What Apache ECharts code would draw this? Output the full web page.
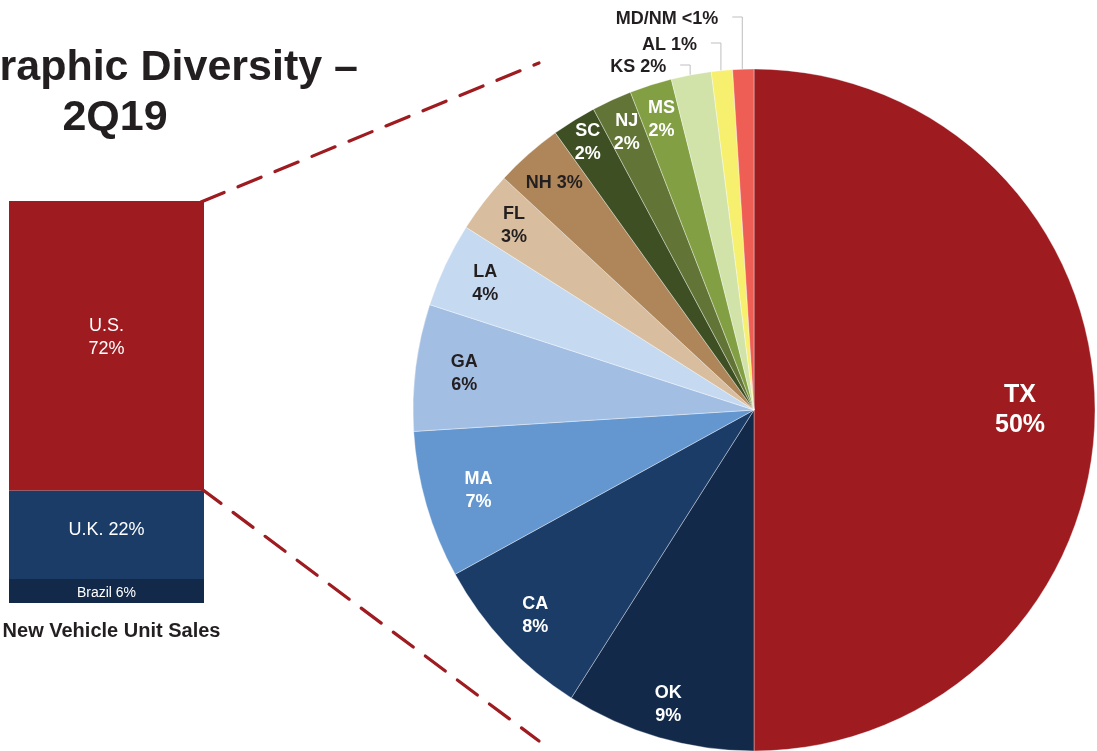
<!DOCTYPE html>
<html><head><meta charset="utf-8">
<script src="https://cdn.jsdelivr.net/npm/echarts@6/dist/echarts.min.js"></script>
<style>html,body{margin:0;padding:0;background:#fff}#c{width:1097px;height:751px}</style>
</head><body><div id="c"></div>
<script>
// ---- data ----
const barCategory = ['New Vehicle Unit Sales'];
const regions = ['Brazil', 'U.K.', 'U.S.'];          // bottom to top
const regionShares = [6, 22, 72];
const regionLabels = ['Brazil 6%', 'U.K. 22%', 'U.S.\n72%'];

const states = ['TX', 'OK', 'CA', 'MA', 'GA', 'LA', 'FL', 'NH', 'SC', 'NJ', 'MS', 'KS', 'AL', 'MD/NM'];
const stateShares = [50, 9, 8, 7, 6, 4, 2.9, 3.2, 2.1, 1.9, 2.0, 1.9, 1.0, 1.0];
const stateLabels = ['50%', '9%', '8%', '7%', '6%', '4%', '3%', '3%', '2%', '2%', '2%', '2%', '1%', '<1%'];

// ---- styles ----
const FONT = '"Liberation Sans", Arial, Helvetica, sans-serif';
const regionColors = ['#12294A', '#1C3C68', '#9E1B20'];
const stateColors = ['#9E1B20', '#12294A', '#1C3C68', '#6497CF', '#A3BEE3', '#C5DAF1', '#D8BE9E',
  '#AE8659', '#3E5023', '#627536', '#82A043', '#D1E3A8', '#F7F06E', '#EE5E55'];
const inlineSet = { 'NH': 1, 'KS': 1, 'AL': 1, 'MD/NM': 1 };
const outsideSet = { 'KS': 1, 'AL': 1, 'MD/NM': 1 };
const darkSet = { 'GA': 1, 'LA': 1, 'FL': 1, 'NH': 1, 'KS': 1, 'AL': 1, 'MD/NM': 1 };
const labelRadius = [266, 307, 300, 287, 292, 297, 303, 302, 315, 305, 305];
const outsideLabelY = { 'KS': 67, 'AL': 45, 'MD/NM': 19 };
const CX = 754, CY = 410, R = 341;
const GRID = { left: 9, top: 201, width: 195, height: 402 };

const total = stateShares.reduce((a, b) => a + b, 0);
const midAngles = [];
let acc = 0;
stateShares.forEach(v => { midAngles.push((acc + v / 2) / total * 2 * Math.PI); acc += v; });

const chart = echarts.init(document.getElementById('c'));

const pieData = states.map((s, i) => ({
  name: s,
  value: stateShares[i],
  itemStyle: { color: stateColors[i] },
  label: {
    position: outsideSet[s] ? 'outside' : 'inside',
    color: darkSet[s] ? '#231F20' : '#FFFFFF',
    fontSize: i === 0 ? 25 : 18,
    lineHeight: i === 0 ? 30 : 23
  },
  labelLine: { show: !!outsideSet[s] }
}));

chart.setOption({
  animation: false,
  backgroundColor: '#FFFFFF',
  textStyle: { fontFamily: FONT },
  grid: { left: GRID.left, top: GRID.top, width: GRID.width, height: GRID.height, containLabel: false, outerBoundsMode: 'none' },
  xAxis: {
    type: 'category', data: barCategory,
    axisLine: { show: false }, axisTick: { show: false },
    axisLabel: { fontSize: 20, fontWeight: 'bold', color: '#231F20', margin: 18, fontFamily: FONT, padding: [0, 0, 0, 10] }
  },
  yAxis: { type: 'value', min: 0, max: 100, show: false },
  series: regions.map((r, i) => ({
    name: r, type: 'bar', stack: 'total', barWidth: '100%',
    data: [regionShares[i]],
    itemStyle: { color: regionColors[i] },
    label: {
      show: true, position: 'inside', formatter: regionLabels[i],
      color: '#FFFFFF', fontSize: i === 0 ? 14 : 18, lineHeight: 23, fontFamily: FONT,
      offset: i === 2 ? [0, -8] : (i === 1 ? [0, -5] : [0, 2])
    }
  })).concat([{
    type: 'pie',
    center: [CX, CY],
    radius: R,
    startAngle: 90,
    clockwise: true,
    avoidLabelOverlap: false,
    itemStyle: { borderColor: 'rgba(255,255,255,0.6)', borderWidth: 0.6 },
    label: {
      show: true,
      fontFamily: FONT,
      fontWeight: 'bold',
      formatter: p => p.name + (inlineSet[p.name] ? ' ' : '\n') + stateLabels[p.dataIndex]
    },
    labelLine: { show: false, length: 5, length2: 5, lineStyle: { color: '#BFBFBF', width: 1 } },
    labelLayout: function (p) {
      const i = p.dataIndex;
      const s = states[i];
      const a = midAngles[i];
      if (outsideSet[s]) {
        const px = CX + R * Math.sin(a) - 1;
        const py = CY - R * Math.cos(a);
        const ly = outsideLabelY[s];
        return {
          x: px - 24, y: ly, align: 'right', verticalAlign: 'middle',
          labelLinePoints: [[px, py], [px, ly - 2], [px - 10, ly - 2]]
        };
      }
      const r = labelRadius[i];
      return { x: CX + r * Math.sin(a), y: CY - r * Math.cos(a), align: 'center', verticalAlign: 'middle' };
    },
    data: pieData
  }]),
  graphic: [
    { id: 't1', type: 'text', x: 358, y: 68, style: { text: 'Geographic Diversity \u2013', font: 'bold 43px ' + FONT, fill: '#231F20', align: 'right', verticalAlign: 'middle' } },
    { id: 't2', type: 'text', x: 115, y: 118, style: { text: '2Q19', font: 'bold 43px ' + FONT, fill: '#231F20', align: 'center', verticalAlign: 'middle' } }
  ]
});

// dashed connector lines from the bar's U.S. segment corners toward the pie
const rightX = GRID.left + GRID.width - 3;
const yTop = chart.convertToPixel({ yAxisIndex: 0 }, 100);
const yUS = chart.convertToPixel({ yAxisIndex: 0 }, regionShares[0] + regionShares[1]);
const dashStyle = { stroke: '#9E1B20', lineWidth: 3.2, lineDash: [25, 15], lineCap: 'round' };
chart.setOption({
  graphic: [
    { id: 'd1', type: 'line', z: 10, shape: { x1: rightX, y1: yTop + 1, x2: 539, y2: 63 }, style: dashStyle },
    { id: 'd2', type: 'line', z: 10, shape: { x1: rightX, y1: yUS - 2, x2: 539, y2: 741 }, style: dashStyle }
  ]
});
</script></body></html>
